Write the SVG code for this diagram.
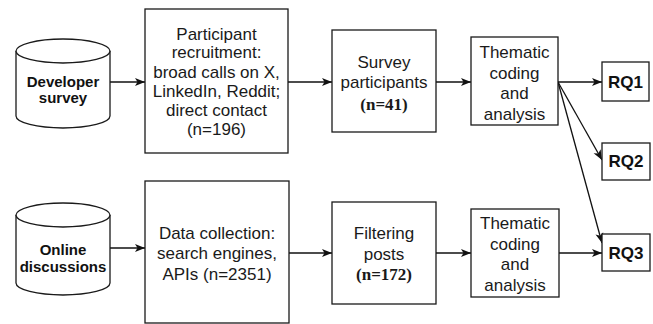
<svg xmlns="http://www.w3.org/2000/svg" width="653" height="324" viewBox="0 0 653 324">
<style>
.box{fill:#fff;stroke:#1a1a1a;stroke-width:1.3}
.cyl{fill:#fff;stroke:#1a1a1a;stroke-width:1.3}
.t{font-family:"Liberation Sans",Arial,sans-serif;font-size:17px;fill:#1a1a1a;text-anchor:middle}
.b{font-family:"Liberation Sans",Arial,sans-serif;font-size:15px;font-weight:bold;fill:#111;text-anchor:middle}
.rq{font-family:"Liberation Sans",Arial,sans-serif;font-size:17px;font-weight:bold;fill:#111;text-anchor:middle}
.s{font-family:"Liberation Serif","Times New Roman",serif;font-weight:bold}
.e{fill:none;stroke:#111;stroke-width:1.3}
</style>
<defs>
<marker id="ah" markerWidth="11" markerHeight="9" refX="10" refY="4.5" orient="auto" markerUnits="userSpaceOnUse">
<path d="M0,0.5 L10,4.5 L0,8.5 L2.5,4.5 Z" fill="#111"/>
</marker>
</defs>
<g id="connectors">
<line class="e" x1="110" y1="82" x2="145" y2="82" marker-end="url(#ah)"/>
<line class="e" x1="288" y1="82" x2="332" y2="82" marker-end="url(#ah)"/>
<line class="e" x1="436" y1="82" x2="471" y2="82" marker-end="url(#ah)"/>
<line class="e" x1="558" y1="82" x2="602" y2="82" marker-end="url(#ah)"/>
<line class="e" x1="558" y1="82" x2="602" y2="160" marker-end="url(#ah)"/>
<line class="e" x1="558" y1="82" x2="602" y2="243" marker-end="url(#ah)"/>
<line class="e" x1="110" y1="248" x2="145" y2="248" marker-end="url(#ah)"/>
<line class="e" x1="289" y1="253" x2="332" y2="253" marker-end="url(#ah)"/>
<line class="e" x1="436" y1="253" x2="471" y2="253" marker-end="url(#ah)"/>
<line class="e" x1="559" y1="253" x2="602" y2="253" marker-end="url(#ah)"/>
</g>
<g id="developer-survey">
<path class="cyl" d="M16,51 A47,12 0 0 1 110,51 L110,116 A47,12 0 0 1 16,116 Z"/>
<path class="cyl" d="M16,51 A47,12 0 0 0 110,51"/>
<text class="b" x="63" y="87">Developer</text>
<text class="b" x="63" y="103">survey</text>
</g>
<g id="participant-recruitment">
<rect class="box" x="145" y="9" width="143" height="144"/>
<text class="t" x="216.5" y="39.5">Participant</text>
<text class="t" x="216.5" y="58">recruitment:</text>
<text class="t" x="216.5" y="77.5">broad calls on X,</text>
<text class="t" x="216.5" y="96.5">LinkedIn, Reddit;</text>
<text class="t" x="216.5" y="116">direct contact</text>
<text class="t" x="216.5" y="135">(n=196)</text>
</g>
<g id="survey-participants">
<rect class="box" x="332" y="30" width="104" height="102"/>
<text class="t" x="384" y="68">Survey</text>
<text class="t" x="384" y="87.5">participants</text>
<text class="t s" x="384" y="110">(n=41)</text>
</g>
<g id="thematic-1">
<rect class="box" x="471" y="37" width="87" height="88"/>
<text class="t" x="514.5" y="57.5">Thematic</text>
<text class="t" x="514.5" y="78.5">coding</text>
<text class="t" x="514.5" y="99">and</text>
<text class="t" x="514.5" y="119.5">analysis</text>
</g>
<g id="rq1">
<rect class="box" x="602" y="62" width="47" height="39"/>
<text class="rq" x="625.5" y="88">RQ1</text>
</g>
<g id="rq2">
<rect class="box" x="602" y="143" width="48" height="37"/>
<text class="rq" x="626" y="167">RQ2</text>
</g>
<g id="rq3">
<rect class="box" x="602" y="234" width="48" height="37"/>
<text class="rq" x="626" y="258.5">RQ3</text>
</g>
<g id="online-discussions">
<path class="cyl" d="M16,215 A47,12 0 0 1 110,215 L110,283 A47,12 0 0 1 16,283 Z"/>
<path class="cyl" d="M16,215 A47,12 0 0 0 110,215"/>
<text class="b" x="63" y="255">Online</text>
<text class="b" x="63" y="272">discussions</text>
</g>
<g id="data-collection">
<rect class="box" x="145" y="181" width="144" height="142"/>
<text class="t" x="217" y="238.5">Data collection:</text>
<text class="t" x="217" y="259">search engines,</text>
<text class="t" x="217" y="280">APIs (n=2351)</text>
</g>
<g id="filtering-posts">
<rect class="box" x="332" y="202" width="104" height="102"/>
<text class="t" x="384" y="239">Filtering</text>
<text class="t" x="384" y="259.5">posts</text>
<text class="t s" x="384" y="280">(n=172)</text>
</g>
<g id="thematic-2">
<rect class="box" x="471" y="209" width="88" height="88"/>
<text class="t" x="515" y="228.5">Thematic</text>
<text class="t" x="515" y="249.5">coding</text>
<text class="t" x="515" y="270">and</text>
<text class="t" x="515" y="291">analysis</text>
</g>
</svg>
